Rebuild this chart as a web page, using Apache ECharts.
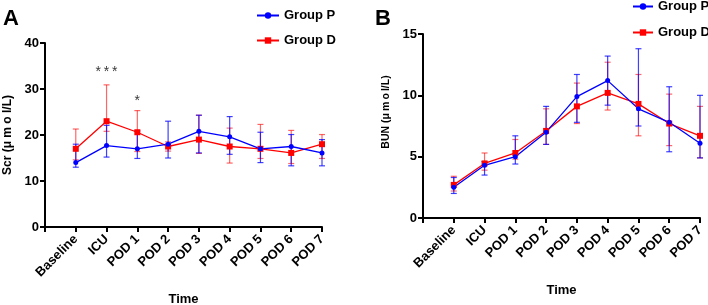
<!DOCTYPE html>
<html>
<head>
<meta charset="utf-8">
<script src="https://cdn.jsdelivr.net/npm/echarts@6/dist/echarts.min.js"></script>
<style>
  html, body { margin: 0; padding: 0; background: #fff; }
  #main { width: 708px; height: 305px; }
</style>
</head>
<body>
<div id="main"></div>
<script>
var categories = ['Baseline', 'ICU', 'POD 1', 'POD 2', 'POD 3', 'POD 4', 'POD 5', 'POD 6', 'POD 7'];

// Scr, umol/L
var scrP = [14.0, 17.7, 17.0, 18.0, 20.8, 19.6, 17.0, 17.5, 16.1];
var scrPUpper = [18.0, 22.1, 20.9, 23.0, 24.3, 24.0, 20.6, 20.1, 19.0];
var scrPLower = [13.0, 15.2, 14.9, 15.0, 16.1, 15.8, 14.0, 13.3, 13.3];
var scrD = [17.0, 23.0, 20.6, 17.5, 19.0, 17.5, 17.0, 16.1, 18.0];
var scrDUpper = [21.3, 30.9, 25.3, 18.5, 24.3, 21.5, 22.3, 21.0, 20.1];
var scrDLower = [14.6, 20.8, 16.4, 16.5, 16.0, 13.9, 14.9, 13.8, 14.9];

// BUN
var bunP = [2.5, 4.3, 5.0, 7.0, 9.9, 11.2, 8.9, 7.8, 6.1];
var bunPUpper = [3.3, 4.6, 6.7, 9.1, 11.7, 13.2, 13.8, 10.7, 10.0];
var bunPLower = [2.0, 3.5, 4.4, 6.0, 7.8, 9.2, 7.5, 5.4, 4.9];
var bunD = [2.7, 4.45, 5.3, 7.1, 9.1, 10.2, 9.3, 7.7, 6.7];
var bunDUpper = [3.4, 5.3, 6.4, 8.9, 11.0, 12.7, 11.7, 10.1, 9.1];
var bunDLower = [2.2, 3.9, 4.8, 6.0, 7.7, 8.8, 6.7, 5.9, 4.9];

// significance marks (Scr, Group D vs P)
var sigCategories = ['ICU', 'POD 1'];
var sigLabels = ['*\u2009*\u2009*', '*'];

var FONT = 'Arial, "Liberation Sans", sans-serif';
var BLUE = '#0000ff';
var RED = '#ff0000';

var xData = [''].concat(categories);

function pts(vals) {
    return vals.map(function (v, i) { return [i + 1, v]; });
}
function bars(lo, hi) {
    return lo.map(function (v, i) { return [i + 1, v, hi[i]]; });
}

function errorBar(color) {
    return function (params, api) {
        var x = api.value(0);
        var lo = api.coord([x, api.value(1)]);
        var hi = api.coord([x, api.value(2)]);
        var w = 3;
        var style = { stroke: color, lineWidth: 1.2, fill: null };
        return {
            type: 'group',
            children: [
                { type: 'line', shape: { x1: lo[0], y1: lo[1], x2: hi[0], y2: hi[1] }, style: style },
                { type: 'line', shape: { x1: hi[0] - w, y1: hi[1], x2: hi[0] + w, y2: hi[1] }, style: style },
                { type: 'line', shape: { x1: lo[0] - w, y1: lo[1], x2: lo[0] + w, y2: lo[1] }, style: style }
            ]
        };
    };
}

function xAxisOpt(idx) {
    return {
        type: 'category',
        gridIndex: idx,
        data: xData,
        boundaryGap: false,
        name: 'Time',
        nameLocation: 'middle',
        nameGap: 66,
        nameTextStyle: { fontFamily: FONT, fontWeight: 'bold', fontSize: 13, color: '#000' },
        axisLine: { lineStyle: { color: '#000', width: 2 } },
        axisTick: { alignWithLabel: true, length: 5, lineStyle: { color: '#000', width: 2 }, interval: 0 },
        axisLabel: { interval: 0, rotate: 45, margin: 10, fontFamily: FONT, fontWeight: 'bold', fontSize: 13, color: '#000' },
        splitLine: { show: false }
    };
}

function yAxisOpt(idx, name, max, interval, nameSize, namePadding) {
    return {
        type: 'value',
        gridIndex: idx,
        min: 0,
        max: max,
        interval: interval,
        name: name,
        nameLocation: 'middle',
        nameGap: 31,
        nameTextStyle: { fontFamily: FONT, fontWeight: 'bold', fontSize: nameSize, color: '#000', padding: namePadding },
        axisLine: { show: true, lineStyle: { color: '#000', width: 2 } },
        axisTick: { show: true, length: 5, lineStyle: { color: '#000', width: 2 } },
        axisLabel: { margin: 6, fontFamily: FONT, fontWeight: 'bold', fontSize: 13, color: '#000' },
        splitLine: { show: false }
    };
}

function lineSeries(idx, name, vals, color, symbol, size) {
    return {
        name: name,
        type: 'line',
        xAxisIndex: idx,
        yAxisIndex: idx,
        data: pts(vals),
        symbol: symbol,
        symbolSize: size,
        itemStyle: { color: color },
        lineStyle: { color: color, width: 1.3 },
        z: 3
    };
}

function barSeries(idx, lo, hi, color) {
    return {
        type: 'custom',
        xAxisIndex: idx,
        yAxisIndex: idx,
        data: bars(lo, hi),
        encode: { x: 0, y: [1, 2] },
        renderItem: errorBar(color),
        z: 2
    };
}

var sigDistance = [6, 2];
var sigData = sigCategories.map(function (c, k) {
    var i = categories.indexOf(c);
    return { value: [i + 1, scrDUpper[i]], label: { formatter: sigLabels[k], distance: sigDistance[k] } };
});

var chartDom = document.getElementById('main');
var myChart = echarts.init(chartDom);
var option;

option = {
    animation: false,
    grid: [
        { left: 45, top: 43, width: 277, height: 184, outerBoundsMode: 'none' },
        { left: 423, top: 34, width: 277, height: 184, outerBoundsMode: 'none' }
    ],
    legend: [
        {
            data: ['Group P', 'Group D'],
            orient: 'vertical',
            left: 251,
            top: 4,
            itemWidth: 22,
            itemHeight: 8,
            itemGap: 12,
            textStyle: { fontFamily: FONT, fontWeight: 'bold', fontSize: 13, color: '#000' }
        },
        {
            data: ['Group P', 'Group D'],
            orient: 'vertical',
            left: 627,
            top: -5,
            itemWidth: 20,
            itemHeight: 8,
            itemGap: 13,
            textStyle: { fontFamily: FONT, fontWeight: 'bold', fontSize: 13, color: '#000' }
        }
    ],
    graphic: [
        { type: 'text', left: 3, top: 8, style: { text: 'A', font: 'bold 22px ' + FONT, fill: '#000' } },
        { type: 'text', left: 375, top: 8, style: { text: 'B', font: 'bold 22px ' + FONT, fill: '#000' } }
    ],
    xAxis: [xAxisOpt(0), xAxisOpt(1)],
    yAxis: [
        yAxisOpt(0, 'Scr (μ m o l/L)', 40, 10, 12, 0),
        yAxisOpt(1, 'BUN (μ\u2009m\u2009o\u2009l/L)', 15, 5, 10.5, [0, 0, 0, 28])
    ],
    series: [
        barSeries(0, scrDLower, scrDUpper, 'rgba(255,0,0,0.6)'),
        barSeries(0, scrPLower, scrPUpper, 'rgba(0,0,255,0.75)'),
        lineSeries(0, 'Group D', scrD, RED, 'rect', 6),
        lineSeries(0, 'Group P', scrP, BLUE, 'circle', 5),
        barSeries(1, bunDLower, bunDUpper, 'rgba(255,0,0,0.6)'),
        barSeries(1, bunPLower, bunPUpper, 'rgba(0,0,255,0.75)'),
        lineSeries(1, 'Group D', bunD, RED, 'rect', 6),
        lineSeries(1, 'Group P', bunP, BLUE, 'circle', 5),
        {
            type: 'scatter',
            xAxisIndex: 0,
            yAxisIndex: 0,
            symbolSize: 0,
            data: sigData,
            silent: true,
            label: {
                show: true,
                position: 'top',
                fontFamily: FONT,
                fontSize: 14,
                color: '#000'
            }
        }
    ]
};

option && myChart.setOption(option);
</script>
</body>
</html>
